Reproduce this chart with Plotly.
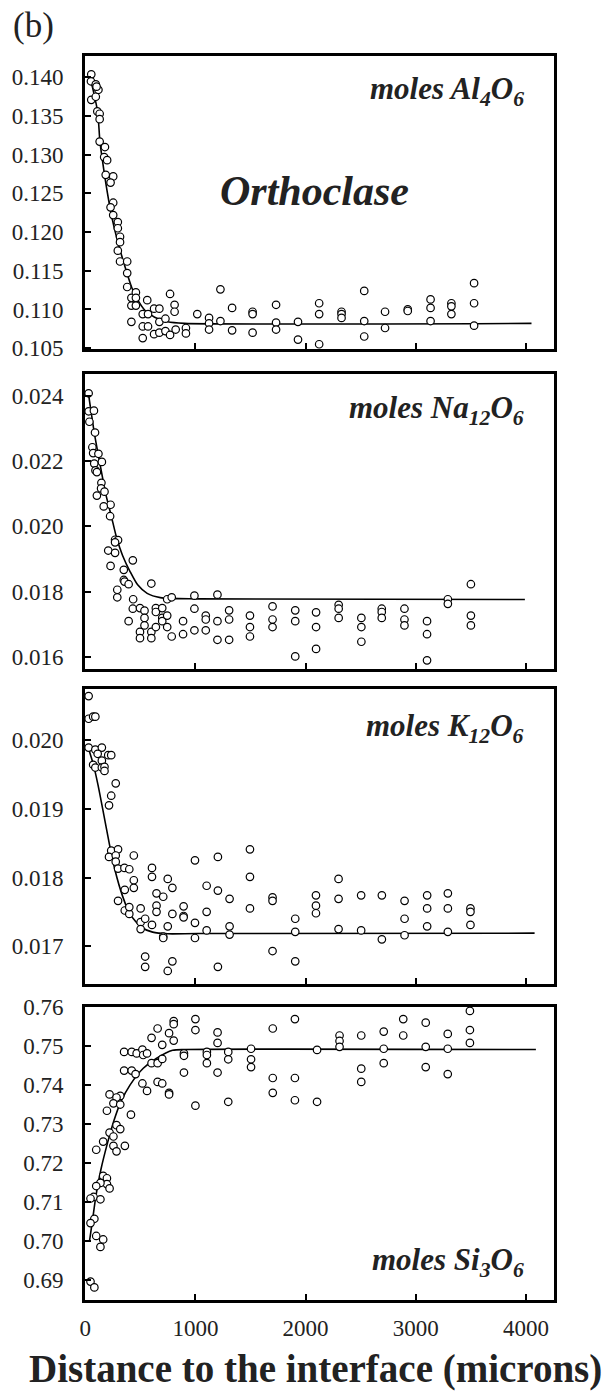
import plotly.graph_objects as go

FONT = "Liberation Serif, Times New Roman, serif"

# ---------------- data ----------------
# Panel 1: moles Al4O6
al_x = [55, 52, 55, 96, 96, 120, 103, 110, 131, 131, 131, 179, 172, 199, 186,
        254, 230, 254, 230, 254, 296, 296, 316, 316, 296, 316, 381, 381, 381,
        419, 460, 460, 419, 460, 419, 522, 563, 570, 522, 570, 522, 625, 673,
        673, 728, 625, 673, 728, 770, 770, 811, 811, 821, 914, 914, 1017,
        1124, 1124, 1124, 1227, 1227, 1333, 1333, 1519, 1519, 1519, 1732, 1732,
        1732, 1931, 1931, 2123, 2123, 2123, 2326, 2326, 2326, 2532, 2532, 2532,
        2721, 2721, 2927, 2927, 3134, 3134, 3134, 3323, 3323, 3323, 3529, 3529,
        3529]
al_y = [0.1404, 0.1395, 0.1371, 0.1391, 0.1375, 0.1384, 0.1388, 0.1356, 0.1353, 0.1346, 0.1317, 0.1310, 0.1297, 0.1293, 0.1274,
        0.1272, 0.1264, 0.1238, 0.1232, 0.1222, 0.1213, 0.1205, 0.1194, 0.1187, 0.1176, 0.1162, 0.1162, 0.1147, 0.1129,
        0.1115, 0.1122, 0.1115, 0.1105, 0.1105, 0.1084, 0.1094, 0.1112, 0.1094, 0.1078, 0.1078, 0.1063, 0.1101, 0.1101,
        0.1084, 0.1088, 0.1068, 0.1070, 0.1072, 0.1067, 0.1120, 0.1106, 0.1097, 0.1074, 0.1076, 0.1069, 0.1094,
        0.1089, 0.1082, 0.1074, 0.1126, 0.1085, 0.1102, 0.1073, 0.1097, 0.1094, 0.1070, 0.1106, 0.1083,
        0.1074, 0.1084, 0.1061, 0.1108, 0.1094, 0.1055, 0.1097, 0.1094, 0.1089, 0.1124, 0.1085, 0.1065,
        0.1097, 0.1076, 0.1100, 0.1098, 0.1113, 0.1102, 0.1085, 0.1108, 0.1104, 0.1094, 0.1134, 0.1108,
        0.1079]
al_fit_x = [45, 112, 133, 156, 201, 245, 304, 364, 423, 482, 541, 630, 748, 900, 4050]
al_fit_y = [0.1400, 0.1356, 0.1318, 0.1293, 0.1251, 0.1217, 0.1183, 0.1154, 0.1128,
            0.1111, 0.1099, 0.1090, 0.1084, 0.1082, 0.1082]

# Panel 2: moles Na12O6
na_x = [31, 31, 79, 38, 89, 65, 72, 120, 151, 82, 93, 106, 147, 144, 175, 106,
        230, 168, 226, 271, 298, 271, 209, 271, 230, 432, 350, 350, 357, 394,
        291, 291, 600, 435, 432, 497, 538, 538, 538, 497, 497, 394, 600, 600,
        641, 641, 641, 699, 699, 699, 744, 785, 744, 744, 785, 888, 888,
        991, 991, 991, 1094, 1094, 1094, 1200, 1200, 1200, 1306, 1306, 1306,
        1495, 1495, 1495, 1700, 1700, 1700, 1906, 1906, 1906, 2095, 2095, 2095,
        2300, 2300, 2300, 2506, 2506, 2506, 2691, 2691, 2691, 2897, 2897, 2897,
        3102, 3102, 3102, 3291, 3291, 3500, 3500, 3500]
na_y = [0.02407, 0.02352, 0.02354, 0.02320, 0.02287, 0.02242, 0.02224, 0.02222, 0.02197, 0.02192, 0.02171, 0.02166, 0.02133, 0.02116, 0.02106, 0.02094,
        0.02066, 0.02061, 0.02031, 0.01959, 0.01958, 0.01951, 0.01926, 0.01919, 0.01879, 0.01896, 0.01867, 0.01836, 0.01831, 0.01823,
        0.01806, 0.01783, 0.01825, 0.01777, 0.01748, 0.01750, 0.01742, 0.01720, 0.01697, 0.01677, 0.01658, 0.01710, 0.01677, 0.01658,
        0.01750, 0.01738, 0.01692, 0.01750, 0.01720, 0.01710, 0.01777, 0.01783, 0.01727, 0.01692, 0.01663, 0.01710, 0.01670,
        0.01788, 0.01748, 0.01682, 0.01727, 0.01715, 0.01682, 0.01791, 0.01710, 0.01653, 0.01743, 0.01715, 0.01653,
        0.01727, 0.01692, 0.01663, 0.01755, 0.01715, 0.01692, 0.01743, 0.01710, 0.01602, 0.01737, 0.01692, 0.01625,
        0.01760, 0.01748, 0.01720, 0.01720, 0.01692, 0.01647, 0.01748, 0.01738, 0.01720, 0.01748, 0.01715, 0.01697,
        0.01710, 0.01670, 0.01590, 0.01777, 0.01763, 0.01823, 0.01727, 0.01697]
na_fit_x = [31, 82, 134, 185, 237, 288, 339, 408, 476, 562, 682, 1025, 3990]
na_fit_y = [0.02402, 0.02287, 0.02191, 0.02101, 0.02031, 0.01961, 0.01911, 0.01861,
            0.01821, 0.01795, 0.01782, 0.01778, 0.01776]

# Panel 3: moles K12O6
k_x = [31, 31, 72, 92, 31, 92, 151, 113, 72, 92, 151, 151, 175, 175, 209, 236,
       277, 236, 216, 236, 216, 298, 277, 277, 298, 356, 400, 441, 441, 441,
       359, 298, 359, 400, 400, 503, 503, 503, 544, 606, 606, 647, 647, 647,
       606, 708, 708, 708, 749, 749, 791, 791, 544, 544, 749, 791, 893, 893,
       893, 996, 996, 996, 1102, 1102, 1102, 1204, 1204, 1204, 1310, 1310, 1310,
       1495, 1495, 1495, 1700, 1700, 1700, 1906, 1906, 1906, 2094, 2094, 2094,
       2299, 2299, 2299, 2504, 2504, 2692, 2692, 2898, 2898, 2898, 3103, 3103,
       3103, 3291, 3291, 3291, 3496, 3496, 3496]
k_y = [0.02064, 0.02031, 0.02034, 0.02034, 0.01989, 0.01986, 0.01989, 0.01980, 0.01964, 0.01960, 0.01970, 0.01960, 0.01961, 0.01955, 0.01978, 0.01978,
       0.01937, 0.01919, 0.01905, 0.01839, 0.01830, 0.01841, 0.01832, 0.01823, 0.01813, 0.01814, 0.01812, 0.01832, 0.01796, 0.01785,
       0.01782, 0.01766, 0.01752, 0.01747, 0.01757, 0.01755, 0.01735, 0.01725, 0.01740, 0.01814, 0.01801, 0.01777, 0.01759, 0.01750,
       0.01731, 0.01772, 0.01714, 0.01712, 0.01798, 0.01729, 0.01785, 0.01747, 0.01685, 0.01670, 0.01664, 0.01678, 0.01758, 0.01744,
       0.01742, 0.01825, 0.01734, 0.01712, 0.01788, 0.01750, 0.01723, 0.01830, 0.01781, 0.01670, 0.01769, 0.01729, 0.01717,
       0.01841, 0.01801, 0.01755, 0.01771, 0.01766, 0.01693, 0.01740, 0.01721, 0.01678, 0.01774, 0.01759, 0.01748,
       0.01798, 0.01769, 0.01725, 0.01774, 0.01723, 0.01774, 0.01710, 0.01766, 0.01740, 0.01716, 0.01774, 0.01755,
       0.01729, 0.01777, 0.01755, 0.01721, 0.01755, 0.01750, 0.01731]
k_fit_x = [31, 72, 116, 168, 219, 270, 339, 407, 510, 612, 749, 1023, 4078]
k_fit_y = [0.019871, 0.019657, 0.019348, 0.018919, 0.018490, 0.018110, 0.017729,
           0.017467, 0.017276, 0.017205, 0.017181, 0.017185, 0.017190]

# Panel 4: moles Si3O6
si_x = [457, 3491, 803, 803, 1000, 1000, 1903, 2886, 3090, 657, 761, 1201, 602,
        699, 803, 1201, 1702, 2308, 2308, 2308, 2505, 2709, 2886, 3290, 3491,
        3491, 353, 422, 467, 519, 526, 561, 602, 657, 699, 896, 896, 1104, 1104,
        1104, 1298, 1298, 1505, 1505, 1505, 2104, 2709, 2709, 3090, 3090, 3290,
        3290, 2505, 2505, 1702, 1702, 1903, 1903, 2104, 1298, 1000, 896, 1201,
        353, 422, 457, 519, 561, 657, 699, 761, 761, 415, 221, 318, 284, 256,
        318, 197, 221, 284, 318, 256, 256, 284, 360, 163, 100, 163, 197, 197,
        221, 138, 100, 76, 138, 48, 83, 48, 100, 163, 138, 48, 83]
si_y = [0.7602, 0.7590, 0.7564, 0.7556, 0.7569, 0.7541, 0.7569, 0.7569, 0.7560, 0.7545, 0.7533, 0.7535, 0.7521,
        0.7503, 0.7514, 0.7508, 0.7545, 0.7527, 0.7513, 0.7498, 0.7527, 0.7537, 0.7527, 0.7531, 0.7541,
        0.7508, 0.7485, 0.7485, 0.7481, 0.7491, 0.7477, 0.7481, 0.7456, 0.7456, 0.7467, 0.7481, 0.7475, 0.7485, 0.7477,
        0.7456, 0.7485, 0.7466, 0.7493, 0.7466, 0.7446, 0.7490, 0.7493, 0.7456, 0.7498, 0.7446, 0.7493,
        0.7428, 0.7442, 0.7408, 0.7418, 0.7380, 0.7418, 0.7361, 0.7357, 0.7357, 0.7347, 0.7432, 0.7432,
        0.7437, 0.7437, 0.7428, 0.7404, 0.7385, 0.7408, 0.7404, 0.7380, 0.7376, 0.7324, 0.7376, 0.7372, 0.7368, 0.7353,
        0.7350, 0.7334, 0.7278, 0.7297, 0.7287, 0.7268, 0.7244, 0.7230, 0.7244, 0.7255, 0.7234, 0.7167, 0.7161, 0.7146,
        0.7135, 0.7149, 0.7141, 0.7113, 0.7107, 0.7109, 0.7057, 0.7046, 0.7013, 0.7004, 0.6985, 0.6896, 0.6881]
si_fit_x = [39, 69, 98, 143, 202, 261, 320, 409, 527, 645, 793, 911, 4090]
si_fit_y = [0.7000, 0.7059, 0.7117, 0.7184, 0.7251, 0.7309, 0.7355, 0.7401, 0.7443,
            0.7468, 0.7489, 0.7491, 0.7491]

# axis ticks
x_ticks = [0, 1000, 2000, 3000, 4000]
x_ticktext = ["0", "1000", "2000", "3000", "4000"]
al_ticks = [0.105, 0.110, 0.115, 0.120, 0.125, 0.130, 0.135, 0.140]
al_ticktext = ["0.105", "0.110", "0.115", "0.120", "0.125", "0.130", "0.135", "0.140"]
na_ticks = [0.016, 0.018, 0.020, 0.022, 0.024]
na_ticktext = ["0.016", "0.018", "0.020", "0.022", "0.024"]
k_ticks = [0.017, 0.018, 0.019, 0.020]
k_ticktext = ["0.017", "0.018", "0.019", "0.020"]
si_ticks = [0.69, 0.70, 0.71, 0.72, 0.73, 0.74, 0.75, 0.76]
si_ticktext = ["0.69", "0.70", "0.71", "0.72", "0.73", "0.74", "0.75", "0.76"]

labels = ["moles Al<sub>4</sub>O<sub>6</sub>", "moles Na<sub>12</sub>O<sub>6</sub>",
          "moles K<sub>12</sub>O<sub>6</sub>", "moles Si<sub>3</sub>O<sub>6</sub>"]

# ---------------- layout geometry ----------------
W, H = 608, 1399
X_LEFT, X_RIGHT = 80, 553
panel_px = [(45, 343), (368, 668), (689, 989), (1012, 1310)]
y_ranges = [[0.10487, 0.14274], [0.01565, 0.02467], [0.01645, 0.02074], [0.6850, 0.7601]]
label_py = [80, 405, 729, 1272]

panels = [
    (al_x, al_y, al_fit_x, al_fit_y, al_ticks, al_ticktext),
    (na_x, na_y, na_fit_x, na_fit_y, na_ticks, na_ticktext),
    (k_x, k_y, k_fit_x, k_fit_y, k_ticks, k_ticktext),
    (si_x, si_y, si_fit_x, si_fit_y, si_ticks, si_ticktext),
]

fig = go.Figure()
layout = dict(width=W, height=H, margin=dict(l=0, r=0, t=0, b=0),
              paper_bgcolor="white", plot_bgcolor="white", showlegend=False,
              font=dict(family=FONT, color="black", size=23))

for i, (px_, py_, fx, fy, yt, ytt) in enumerate(panels):
    n = "" if i == 0 else str(i + 1)
    xa, ya = "x" + n, "y" + n
    fig.add_trace(go.Scatter(x=fx, y=fy, mode="lines", xaxis=xa, yaxis=ya,
                             line=dict(color="black", width=1.6, shape="spline", smoothing=0.7),
                             hoverinfo="skip"))
    fig.add_trace(go.Scatter(x=px_, y=py_, mode="markers", xaxis=xa, yaxis=ya,
                             cliponaxis=False,
                             marker=dict(symbol="circle", size=7.5, color="white",
                                         line=dict(color="black", width=1.2))))
    top, bot = panel_px[i]
    last = (i == 3)
    layout["xaxis" + n] = dict(
        domain=[X_LEFT / W, X_RIGHT / W], range=[0, 4250], anchor=ya,
        showline=True, mirror=True, linewidth=3, linecolor="black",
        ticks="inside", ticklen=6, tickwidth=1.5, tickcolor="black",
        tickvals=x_ticks if last else x_ticks[1:],
        ticktext=x_ticktext if last else x_ticktext[1:],
        showticklabels=last, tickfont=dict(family=FONT, size=23, color="#222"),
        showgrid=False, zeroline=False, ticklabelstandoff=6)
    layout["yaxis" + n] = dict(
        domain=[1 - bot / H, 1 - top / H], range=y_ranges[i], anchor=xa,
        showline=True, mirror=True, linewidth=3, linecolor="black",
        ticks="inside", ticklen=6, tickwidth=1.5, tickcolor="black",
        tickvals=yt, ticktext=ytt, tickfont=dict(family=FONT, size=23, color="#222"),
        showgrid=False, zeroline=False, ticklabelstandoff=14)

annotations = []
for i, lab in enumerate(labels):
    annotations.append(dict(text="<b><i>" + lab + "</i></b>", xref="paper", yref="paper",
                            x=525 / W, y=1 - label_py[i] / H, xanchor="right", yanchor="middle",
                            showarrow=False, font=dict(family=FONT, size=31, color="#222")))
annotations.append(dict(text="(b)", xref="paper", yref="paper", x=5 / W, y=1 - 14 / H,
                        xanchor="left", yanchor="middle", showarrow=False,
                        font=dict(family=FONT, size=35, color="#222")))
annotations.append(dict(text="<b><i>Orthoclase</i></b>", xref="paper", yref="paper",
                        x=312 / W, y=1 - 182 / H, xanchor="center", yanchor="middle",
                        showarrow=False, font=dict(family=FONT, size=42, color="#222")))
annotations.append(dict(text="<b>Distance to the interface (microns)</b>", xref="paper", yref="paper",
                        x=313 / W, y=1 - 1381 / H, xanchor="center", yanchor="middle",
                        showarrow=False, font=dict(family=FONT, size=39, color="#222")))
layout["annotations"] = annotations
fig.update_layout(**layout)

fig.write_html("out.html")
